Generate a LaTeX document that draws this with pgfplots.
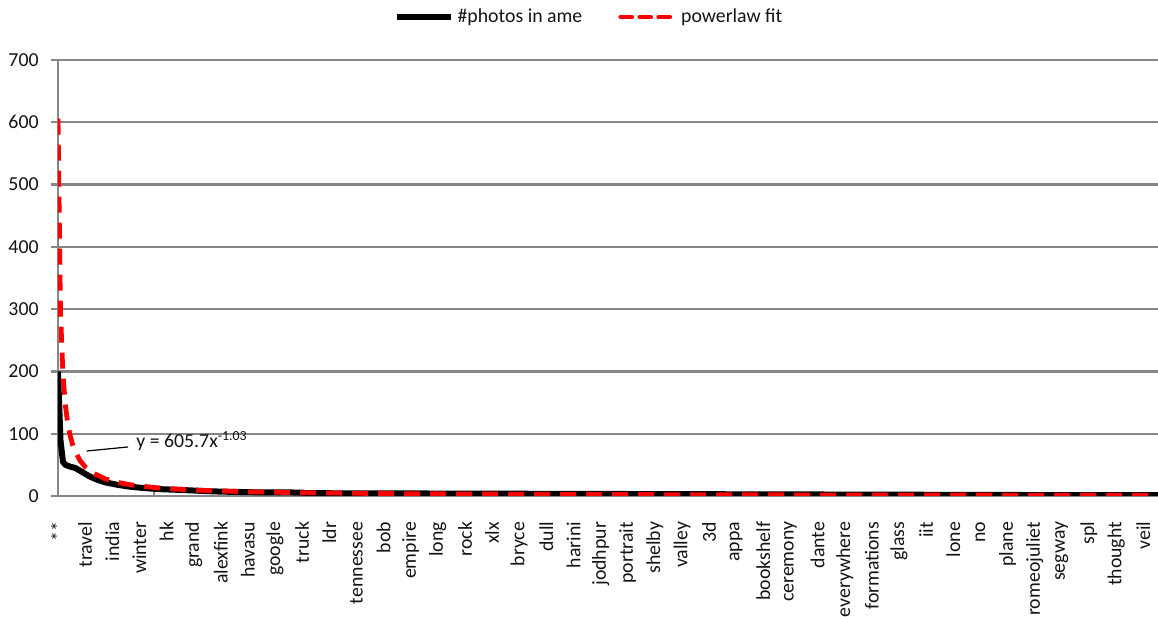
\documentclass[border=0pt]{standalone}
\usepackage{pgfplots}
\pgfplotsset{compat=1.18}
\usepackage{fontspec}
\setmainfont{Carlito}
\definecolor{gridgray}{RGB}{134,134,134}
\definecolor{txt}{RGB}{20,20,20}
\begin{document}
\begin{tikzpicture}
\begin{axis}[
  scale only axis,
  width=550pt, height=218pt,
  xmin=1, xmax=447,
  ymin=0, ymax=700,
  axis lines=left,
  axis line style={-, gridgray, line width=1.15pt},
  ytick={0,100,...,700},
  ymajorgrids,
  major grid style={gridgray, line width=1.15pt},
  y tick style={gridgray, line width=1.15pt},
  ytick align=outside,
  major tick length=3.5pt,
  xtick={1,12,23,34,45,56,67,78,89,100,111,122,133,144,155,166,177,188,199,210,221,232,243,254,265,276,287,298,309,320,331,342,353,364,375,386,397,408,419,430,441},
  xticklabels={**,travel,india,winter,hk,grand,alexfink,havasu,google,truck,ldr,tennessee,bob,empire,long,rock,xlx,bryce,dull,harini,jodhpur,portrait,shelby,valley,3d,appa,bookshelf,ceremony,dante,everywhere,formations,glass,iit,lone,no,plane,romeojuliet,segway,spl,thought,veil},
  x tick style={draw=none},
  extra x ticks={40,79,118,157,196,235,274,313,352,391,430},
  extra x tick labels={},
  extra x tick style={x tick style={draw=gridgray, line width=0.8pt}, major tick length=2pt, tick align=inside},
  xticklabel style={yshift=-11pt, rotate=90, anchor=east, inner sep=0pt, font=\fontsize{9.9}{11}\selectfont, text=txt},
  yticklabel style={inner sep=0pt, xshift=-6pt, font=\fontsize{9.9}{11}\selectfont, text=txt},
  /pgf/number format/assume math mode=true,
  legend style={at={(0.4836,1.0986)}, anchor=center, draw=none, fill=none,
    font=\fontsize{9.9}{11}\selectfont, text=txt, inner sep=0pt},
  legend columns=2,
  legend cell align=left,
  /tikz/every even column/.append style={column sep=16pt},
  legend image code/.code={\draw[#1] (0pt,0pt) -- (27pt,0pt);},
]
\addplot[black, line width=3pt, line join=round, sharp plot] coordinates {
(1,200) (2,90) (3,55) (4,50) (6,47) (8,45) (11,38) (14,31) (17,26) (20,22)
(25,18) (30,15) (35,13) (42,11) (52,9.5) (60,8) (67,7) (80,6) (100,5.5)
(101,4.5) (150,4) (200,3.5) (250,3) (300,2.5) (350,2) (400,1.5) (447,1.5)
};
\addlegendentry{\#photos in ame}
\addplot[red, line width=2.4pt, dash pattern=on 8pt off 5pt, sharp plot,
  legend image post style={dash pattern=on 5.5pt off 4pt, line cap=round}] coordinates {
(1,605.7) (2,296.6) (3,195.4) (4,145.3) (5,115.4) (6,95.7) (7,81.6) (8,71.1)
(10,56.5) (12,46.8) (15,37.2) (20,27.7) (25,22.0) (30,18.2) (40,13.6) (50,10.8)
(60,8.9) (80,6.6) (100,5.3) (130,4.0) (160,3.3) (200,2.6) (250,2.1) (300,1.7)
(350,1.45) (400,1.27) (447,1.13)
};
\addlegendentry{powerlaw fit}
\draw[black, line width=0.6pt] (axis cs:12.6,72.2) -- (axis cs:29.4,78.7);
\node[anchor=west, inner sep=0pt, font=\fontsize{9.9}{11}\selectfont, text=txt] at (axis cs:32.6,88.3) {y = 605.7x\textsuperscript{-1.03}};
\end{axis}
\pgfresetboundingbox
\path[use as bounding box] ([xshift=-29pt,yshift=-60.5pt]current axis.south west) rectangle ([yshift=30pt]current axis.north east);
\end{tikzpicture}
\end{document}
